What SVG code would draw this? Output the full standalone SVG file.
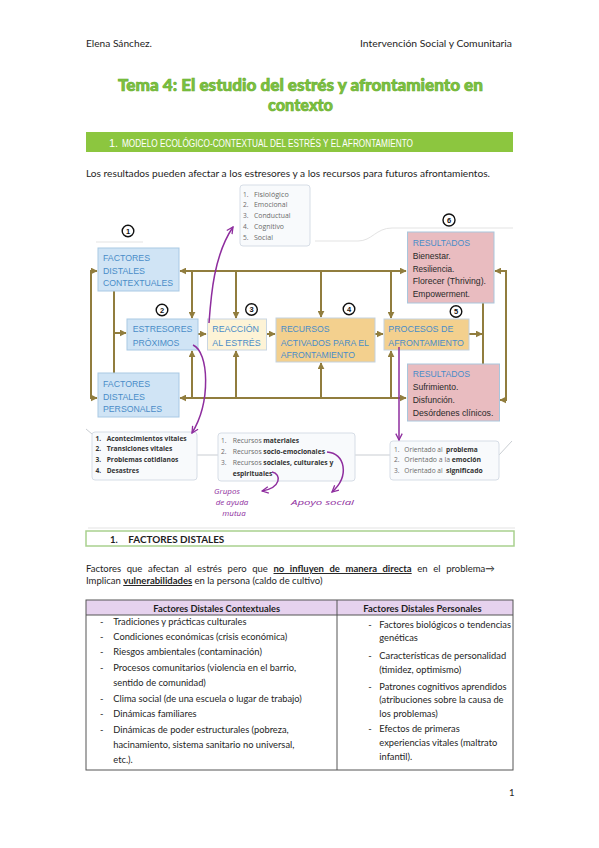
<svg xmlns="http://www.w3.org/2000/svg" width="599" height="848" viewBox="0 0 599 848">
<defs>
<style>
.t{font-family:Lato,"Open Sans",sans-serif;font-size:9.5px;fill:#1e1e1e}
.b{font-weight:700}
.ttl{font-family:Lato,sans-serif;font-weight:900;font-size:16px;fill:#7cc242;stroke:#68ad2c;stroke-width:0.6}
.sec{font-family:"Liberation Sans",sans-serif;font-size:11px;fill:#ffffff}
.bx{font-family:"Liberation Sans",sans-serif;font-size:9.5px;fill:#4a8dc8}
.rs{font-family:"Liberation Sans",sans-serif;font-size:9.5px;fill:#2a2a2a}
.ls{font-family:"Open Sans",sans-serif;font-size:6.6px;fill:#6a6a6a}
.lb{font-family:"Open Sans",sans-serif;font-size:6.6px;fill:#333;font-weight:700}
.hw{font-family:"Open Sans",sans-serif;font-style:italic;font-size:8px;fill:#8e2d9e}
.cn{font-family:"Liberation Sans",sans-serif;font-weight:700;font-size:7.5px;fill:#111;text-anchor:middle}
.cc{fill:none;stroke:#111;stroke-width:1.4}
.con path{fill:none;stroke:#917d3e;stroke-width:2}
.pur path{fill:none;stroke:#8e2d9e;stroke-width:1.5}
.blue{fill:#d0e4f5;stroke:#a9c9e4;stroke-width:1}
.yel{fill:#fdf3d6;stroke:#c9d6e2;stroke-width:1}
.tan{fill:#f3d08e;stroke:#c3d1de;stroke-width:1}
.pink{fill:#e9bcc0;stroke:#a9c6dc;stroke-width:1}
.card{fill:#f8fafc;stroke:#d6dde6;stroke-width:1}
.faint{fill:none;stroke:#e3e3e3;stroke-width:1}
.grey{fill:none;stroke:#c9cdd2;stroke-width:1}
.tbl{font-family:Lato,"Open Sans",sans-serif;font-size:9.3px;fill:#1e1e1e}
</style>
<marker id="ah" viewBox="0 0 10 10" refX="9" refY="5" markerWidth="7" markerHeight="7" markerUnits="userSpaceOnUse" orient="auto"><path d="M0,0 L10,5 L0,10 z" fill="#917d3e"/></marker>
<marker id="pa" viewBox="0 0 10 10" refX="9" refY="5" markerWidth="8" markerHeight="8" markerUnits="userSpaceOnUse" orient="auto"><path d="M1,1 L9,5 L1,9" fill="none" stroke="#8e2d9e" stroke-width="1.6"/></marker>
</defs>
<rect width="599" height="848" fill="#ffffff"/>

<!-- header -->
<text class="t" x="86" y="47" textLength="66" lengthAdjust="spacingAndGlyphs">Elena Sánchez.</text>
<text class="t" x="360" y="47" textLength="152" lengthAdjust="spacingAndGlyphs">Intervención Social y Comunitaria</text>

<!-- title -->
<text class="ttl" x="118" y="91" textLength="365" lengthAdjust="spacingAndGlyphs">Tema 4: El estudio del estrés y afrontamiento en</text>
<text class="ttl" x="268" y="111" textLength="65" lengthAdjust="spacingAndGlyphs">contexto</text>

<!-- section bar -->
<rect x="86" y="132" width="427" height="20" fill="#8cc63f"/>
<text class="sec" x="109" y="146.5">1.</text>
<text class="sec" x="122" y="146.5" textLength="291" lengthAdjust="spacingAndGlyphs">MODELO ECOLÓGICO-CONTEXTUAL DEL ESTRÉS Y EL AFRONTAMIENTO</text>

<text class="t" x="86" y="177" textLength="404" lengthAdjust="spacingAndGlyphs">Los resultados pueden afectar a los estresores y a los recursos para futuros afrontamientos.</text>

<!-- faint image edges / mind-map lines -->
<g id="faint-lines">
<path class="faint" d="M96,242 H143"/>
<path class="faint" d="M315,241 H358 C372,241 376,228 392,228 H513"/>
<path class="faint" d="M88,528 H515"/>
<path class="grey" d="M197,455 H218"/>
<path class="grey" d="M355,455 H390"/>
<path class="grey" d="M499,455 L512,441"/>
<path class="grey" d="M92,434 L86,429"/>
</g>

<!-- connectors -->
<g id="connectors" class="con">
<path d="M250,271 H180" marker-end="url(#ah)"/>
<path d="M250,271 H406" marker-end="url(#ah)"/>
<path d="M91,271 V398"/>
<path d="M90,271 H97" marker-end="url(#ah)"/>
<path d="M90,398 H97" marker-end="url(#ah)"/>
<path d="M192,271 V318" marker-end="url(#ah)"/>
<path d="M236,271 V318" marker-end="url(#ah)"/>
<path d="M321,271 V317" marker-end="url(#ah)"/>
<path d="M391,271 V318" marker-end="url(#ah)"/>
<path d="M114,291 V373"/>
<path d="M113,333 H126" marker-end="url(#ah)"/>
<path d="M250,398 H180" marker-end="url(#ah)"/>
<path d="M250,398 H406" marker-end="url(#ah)"/>
<path d="M192,398 V351" marker-end="url(#ah)"/>
<path d="M236,398 V351" marker-end="url(#ah)"/>
<path d="M321,398 V363" marker-end="url(#ah)"/>
<path d="M391,398 V351" marker-end="url(#ah)"/>
<path d="M198,334 H206" marker-end="url(#ah)"/>
<path d="M267,334 H275" marker-end="url(#ah)"/>
<path d="M375,334 H383" marker-end="url(#ah)"/>
<path d="M469,334 H482" marker-end="url(#ah)"/>
<path d="M483,303 V364"/>
<path d="M506,270 V401"/>
<path d="M507,271 H495" marker-end="url(#ah)"/>
<path d="M507,400 H500" marker-end="url(#ah)"/>
</g>

<!-- nodes -->
<g id="n-fisio">
<rect class="card" x="240" y="185" width="70" height="61" rx="3"/>
<text class="ls" x="243" y="196.5">1.</text><text class="ls" x="254" y="196.5" textLength="34.7" lengthAdjust="spacingAndGlyphs">Fisiológico</text>
<text class="ls" x="243" y="207">2.</text><text class="ls" x="254" y="207" textLength="33.4" lengthAdjust="spacingAndGlyphs">Emocional</text>
<text class="ls" x="243" y="217.5">3.</text><text class="ls" x="254" y="217.5" textLength="36.4" lengthAdjust="spacingAndGlyphs">Conductual</text>
<text class="ls" x="243" y="228.5">4.</text><text class="ls" x="254" y="228.5" textLength="30" lengthAdjust="spacingAndGlyphs">Cognitivo</text>
<text class="ls" x="243" y="239.5">5.</text><text class="ls" x="254" y="239.5" textLength="19" lengthAdjust="spacingAndGlyphs">Social</text>
</g>

<g id="n-contextuales">
<rect class="blue" x="98" y="248" width="81" height="43"/>
<text class="bx" x="103" y="260.5" textLength="47" lengthAdjust="spacingAndGlyphs">FACTORES</text>
<text class="bx" x="103" y="273.5" textLength="42" lengthAdjust="spacingAndGlyphs">DISTALES</text>
<text class="bx" x="103" y="286" textLength="70" lengthAdjust="spacingAndGlyphs">CONTEXTUALES</text>
<circle class="cc" cx="128" cy="231" r="5.8"/><text class="cn" x="128" y="233.8">1</text>
</g>

<g id="n-estresores">
<rect class="blue" x="127" y="319" width="71" height="31"/>
<text class="bx" x="132.7" y="332" textLength="59.6" lengthAdjust="spacingAndGlyphs">ESTRESORES</text>
<text class="bx" x="132.7" y="345.5" textLength="46.7" lengthAdjust="spacingAndGlyphs">PRÓXIMOS</text>
<circle class="cc" cx="162" cy="310" r="5.8"/><text class="cn" x="162" y="312.8">2</text>
</g>

<g id="n-reaccion">
<rect class="yel" x="207.5" y="319" width="59" height="31"/>
<text class="bx" x="212.3" y="332" textLength="46.7" lengthAdjust="spacingAndGlyphs">REACCIÓN</text>
<text class="bx" x="212.3" y="345.5" textLength="48.3" lengthAdjust="spacingAndGlyphs">AL ESTRÉS</text>
<circle class="cc" cx="251.5" cy="309.5" r="5.8"/><text class="cn" x="251.5" y="312.3">3</text>
</g>

<g id="n-recursos">
<rect class="tan" x="276" y="318" width="99" height="44"/>
<text class="bx" x="280.7" y="332" textLength="48.7" lengthAdjust="spacingAndGlyphs">RECURSOS</text>
<text class="bx" x="280.7" y="345.5" textLength="88.3" lengthAdjust="spacingAndGlyphs">ACTIVADOS PARA EL</text>
<text class="bx" x="280.7" y="357.5" textLength="74.3" lengthAdjust="spacingAndGlyphs">AFRONTAMIENTO</text>
<circle class="cc" cx="349" cy="309" r="5.8"/><text class="cn" x="349" y="311.8">4</text>
</g>

<g id="n-procesos">
<rect class="tan" x="384" y="319" width="85" height="31"/>
<text class="bx" x="388.3" y="332" textLength="65" lengthAdjust="spacingAndGlyphs">PROCESOS DE</text>
<text class="bx" x="388.3" y="345.5" textLength="75.7" lengthAdjust="spacingAndGlyphs">AFRONTAMIENTO</text>
<circle class="cc" cx="456" cy="311.5" r="5.8"/><text class="cn" x="456" y="314.3">5</text>
</g>

<g id="n-res-pos">
<rect class="pink" x="407.5" y="232" width="86.5" height="71"/>
<text class="bx" x="412.7" y="245.5" textLength="57.3" lengthAdjust="spacingAndGlyphs">RESULTADOS</text>
<text class="rs" x="412.7" y="259" textLength="38" lengthAdjust="spacingAndGlyphs">Bienestar.</text>
<text class="rs" x="412.7" y="271.5" textLength="41.6" lengthAdjust="spacingAndGlyphs">Resiliencia.</text>
<text class="rs" x="412.7" y="284" textLength="73.3" lengthAdjust="spacingAndGlyphs">Florecer (Thriving).</text>
<text class="rs" x="412.7" y="296.5" textLength="57.3" lengthAdjust="spacingAndGlyphs">Empowerment.</text>
<circle class="cc" cx="449" cy="220" r="6"/><text class="cn" x="449" y="222.8">6</text>
</g>

<g id="n-res-neg">
<rect class="pink" x="407.5" y="364" width="92" height="57"/>
<text class="bx" x="412.7" y="376.5" textLength="57.3" lengthAdjust="spacingAndGlyphs">RESULTADOS</text>
<text class="rs" x="412.7" y="390" textLength="45.7" lengthAdjust="spacingAndGlyphs">Sufrimiento.</text>
<text class="rs" x="412.7" y="403" textLength="42.3" lengthAdjust="spacingAndGlyphs">Disfunción.</text>
<text class="rs" x="412.7" y="416" textLength="80.7" lengthAdjust="spacingAndGlyphs">Desórdenes clínicos.</text>
</g>

<g id="n-personales">
<rect class="blue" x="98" y="373" width="81" height="44"/>
<text class="bx" x="103" y="386.5" textLength="47" lengthAdjust="spacingAndGlyphs">FACTORES</text>
<text class="bx" x="103" y="399.5" textLength="42" lengthAdjust="spacingAndGlyphs">DISTALES</text>
<text class="bx" x="103" y="412" textLength="59" lengthAdjust="spacingAndGlyphs">PERSONALES</text>
</g>

<g id="n-estresores-list">
<rect class="card" x="92" y="432" width="105" height="48" rx="3"/>
<text class="lb" x="95.5" y="440.5">1.</text><text class="lb" x="106.7" y="440.5" textLength="80" lengthAdjust="spacingAndGlyphs">Acontecimientos vitales</text>
<text class="lb" x="95.5" y="451">2.</text><text class="lb" x="106.7" y="451" textLength="65.6" lengthAdjust="spacingAndGlyphs">Transiciones vitales</text>
<text class="lb" x="95.5" y="461.5">3.</text><text class="lb" x="106.7" y="461.5" textLength="71.7" lengthAdjust="spacingAndGlyphs">Problemas cotidianos</text>
<text class="lb" x="95.5" y="472.5">4.</text><text class="lb" x="106.7" y="472.5" textLength="32.3" lengthAdjust="spacingAndGlyphs">Desastres</text>
</g>

<g id="n-recursos-list">
<rect class="card" x="218" y="433" width="137" height="48" rx="3"/>
<text class="ls" x="221" y="443">1.</text><text class="ls" x="232.7" y="443" textLength="29" lengthAdjust="spacingAndGlyphs">Recursos</text><text class="lb" x="263.3" y="443" textLength="35.7" lengthAdjust="spacingAndGlyphs">materiales</text>
<text class="ls" x="221" y="454">2.</text><text class="ls" x="232.7" y="454" textLength="29" lengthAdjust="spacingAndGlyphs">Recursos</text><text class="lb" x="263.3" y="454" textLength="61.7" lengthAdjust="spacingAndGlyphs">socio-emocionales</text>
<text class="ls" x="221" y="465">3.</text><text class="ls" x="232.7" y="465" textLength="29" lengthAdjust="spacingAndGlyphs">Recursos</text><text class="lb" x="263.3" y="465" textLength="70" lengthAdjust="spacingAndGlyphs">sociales, culturales y</text>
<text class="lb" x="232.7" y="475.5" textLength="39.6" lengthAdjust="spacingAndGlyphs">espirituales</text>
</g>

<g id="n-afront-list">
<rect class="card" x="390" y="441" width="109" height="39" rx="3"/>
<text class="ls" x="394" y="451.5">1.</text><text class="ls" x="404.3" y="451.5" textLength="38.4" lengthAdjust="spacingAndGlyphs">Orientado al</text><text class="lb" x="446" y="451.5" textLength="31.7" lengthAdjust="spacingAndGlyphs">problema</text>
<text class="ls" x="394" y="462.3">2.</text><text class="ls" x="404.3" y="462.3" textLength="45.7" lengthAdjust="spacingAndGlyphs">Orientado a la</text><text class="lb" x="451.7" y="462.3" textLength="29.3" lengthAdjust="spacingAndGlyphs">emoción</text>
<text class="ls" x="394" y="473">3.</text><text class="ls" x="404.3" y="473" textLength="38.4" lengthAdjust="spacingAndGlyphs">Orientado al</text><text class="lb" x="446" y="473" textLength="36.7" lengthAdjust="spacingAndGlyphs">significado</text>
</g>

<!-- purple annotations -->
<g id="annotations" class="pur">
<path d="M209,323 C211,295 214,255 233,227" marker-end="url(#pa)"/>
<path d="M193,345 C209,352 211,402 192,433" marker-end="url(#pa)"/>
<path d="M399,347 V440" marker-end="url(#pa)"/>
<path d="M327,452 C345,453 350,476 332,492" marker-end="url(#pa)"/>
<path d="M272,472 C282,474 281,488 262,491" marker-end="url(#pa)"/>
</g>
<g id="n-grupos">
<text class="hw" x="227" y="494" text-anchor="middle">Grupos</text>
<text class="hw" x="232" y="505" text-anchor="middle">de ayuda</text>
<text class="hw" x="234" y="516" text-anchor="middle">mutua</text>
</g>
<g id="n-apoyo">
<text class="hw" x="291" y="505" font-size="9" textLength="63" lengthAdjust="spacingAndGlyphs">Apoyo social</text>
</g>

<!-- section 2 -->
<rect x="86" y="531" width="428" height="15" fill="#ffffff" stroke="#a9d18e" stroke-width="1.5"/>
<text class="t b" x="110" y="542.5">1.</text>
<text class="t b" x="128.3" y="542.5" textLength="96" lengthAdjust="spacingAndGlyphs">FACTORES DISTALES</text>

<text class="t" x="86" y="572" word-spacing="3.2">Factores que afectan al estrés pero que <tspan class="b" text-decoration="underline">no influyen de manera directa</tspan> en el problema→</text>
<text class="t" x="86" y="584">Implican <tspan class="b" text-decoration="underline">vulnerabilidades</tspan> en la persona (caldo de cultivo)</text>

<!-- table -->
<g id="table">
<rect x="86" y="600" width="427" height="15" fill="#e6d2ee"/>
<rect x="86" y="600" width="427" height="170" fill="none" stroke="#555" stroke-width="1"/>
<path d="M86,615 H513 M337,600 V770" stroke="#555" stroke-width="1" fill="none"/>
<text class="tbl b" x="153.3" y="611.5" textLength="126.7" lengthAdjust="spacingAndGlyphs">Factores Distales Contextuales</text>
<text class="tbl b" x="363.3" y="611.5" textLength="118.4" lengthAdjust="spacingAndGlyphs">Factores Distales Personales</text>

<text class="tbl" x="100" y="625">-</text><text class="tbl" x="113.3" y="625">Tradiciones y prácticas culturales</text>
<text class="tbl" x="100" y="640">-</text><text class="tbl" x="113.3" y="640">Condiciones económicas (crisis económica)</text>
<text class="tbl" x="100" y="655">-</text><text class="tbl" x="113.3" y="655">Riesgos ambientales (contaminación)</text>
<text class="tbl" x="100" y="671">-</text><text class="tbl" x="113.3" y="671">Procesos comunitarios (violencia en el barrio,</text>
<text class="tbl" x="113.3" y="686">sentido de comunidad)</text>
<text class="tbl" x="100" y="702">-</text><text class="tbl" x="113.3" y="702">Clima social (de una escuela o lugar de trabajo)</text>
<text class="tbl" x="100" y="717">-</text><text class="tbl" x="113.3" y="717">Dinámicas familiares</text>
<text class="tbl" x="100" y="733">-</text><text class="tbl" x="113.3" y="733">Dinámicas de poder estructurales (pobreza,</text>
<text class="tbl" x="113.3" y="748">hacinamiento, sistema sanitario no universal,</text>
<text class="tbl" x="113.3" y="763">etc.).</text>

<text class="tbl" x="368.3" y="628">-</text><text class="tbl" x="379.3" y="628">Factores biológicos o tendencias</text>
<text class="tbl" x="379.3" y="641">genéticas</text>
<text class="tbl" x="368.3" y="659">-</text><text class="tbl" x="379.3" y="659">Características de personalidad</text>
<text class="tbl" x="379.3" y="673">(timidez, optimismo)</text>
<text class="tbl" x="368.3" y="690">-</text><text class="tbl" x="379.3" y="690">Patrones cognitivos aprendidos</text>
<text class="tbl" x="379.3" y="703">(atribuciones sobre la causa de</text>
<text class="tbl" x="379.3" y="717">los problemas)</text>
<text class="tbl" x="368.3" y="732">-</text><text class="tbl" x="379.3" y="732">Efectos de primeras</text>
<text class="tbl" x="379.3" y="746">experiencias vitales (maltrato</text>
<text class="tbl" x="379.3" y="760">infantil).</text>
</g>

<text class="t" x="509" y="796">1</text>
</svg>
